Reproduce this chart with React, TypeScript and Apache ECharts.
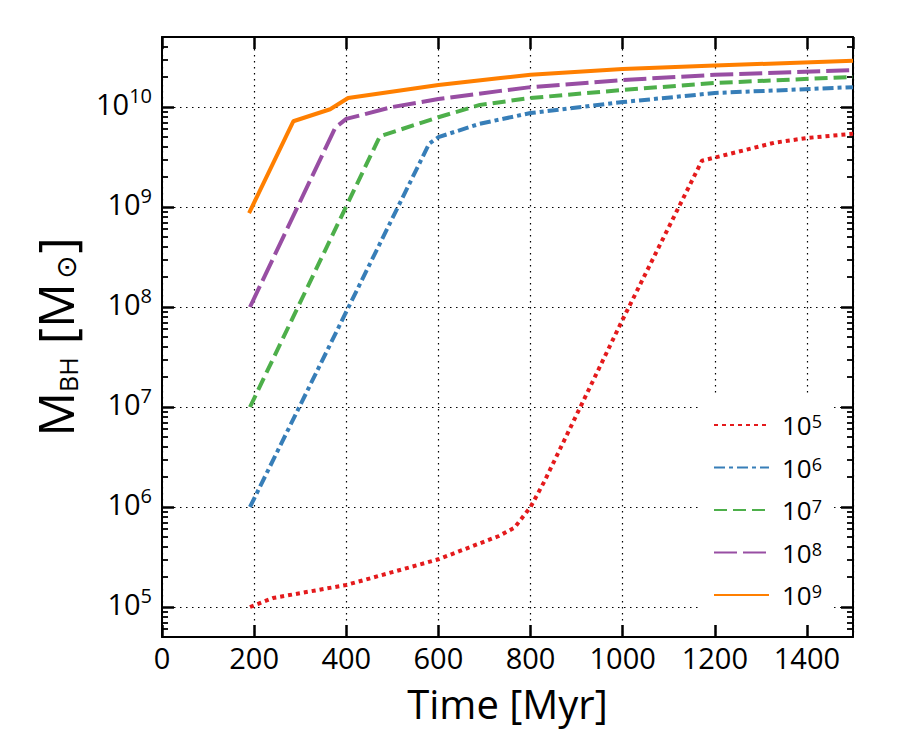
import React, { useEffect, useRef } from "react";
import * as echarts from "echarts";

// ---- data ----
const SERIES_NAMES = ["1e5", "1e6", "1e7", "1e8", "1e9"];
const SERIES_COLORS = ["#e41a1c", "#377eb8", "#4daf4a", "#984ea3", "#ff7f00"];

const TIME_5 = [191, 241, 400, 600, 730, 765, 800, 830, 1000, 1172, 1330, 1400, 1500];
const MASS_5 = [1e5, 1.23e5, 1.66e5, 3.0e5, 5.1e5, 6.2e5, 1.0e6, 1.8e6, 7.5e7, 2.9e9, 4.4e9, 4.9e9, 5.4e9];

const TIME_6 = [191, 580, 600, 690, 800, 1000, 1200, 1500];
const MASS_6 = [1e6, 4.3e9, 5.0e9, 6.8e9, 8.7e9, 1.12e10, 1.38e10, 1.58e10];

const TIME_7 = [191, 473, 600, 690, 800, 1000, 1200, 1500];
const MASS_7 = [1e7, 5.1e9, 7.9e9, 1.05e10, 1.23e10, 1.48e10, 1.74e10, 2.0e10];

const TIME_8 = [191, 376, 400, 500, 600, 735, 800, 1000, 1200, 1500];
const MASS_8 = [1e8, 6.2e9, 7.6e9, 1.0e10, 1.2e10, 1.45e10, 1.58e10, 1.86e10, 2.1e10, 2.34e10];

const TIME_9 = [189, 285, 365, 404, 600, 735, 800, 1000, 1200, 1500];
const MASS_9 = [8.7e8, 7.2e9, 9.5e9, 1.23e10, 1.66e10, 1.95e10, 2.1e10, 2.4e10, 2.6e10, 2.9e10];

const Y_MAJOR_TICKS = [1e5, 1e6, 1e7, 1e8, 1e9, 1e10];
const X_MIN = 0;
const X_MAX = 1500;
const X_INTERVAL = 200;
const Y_MIN = Math.pow(10, 4.7);
const Y_MAX = Math.pow(10, 10.7);

const TIMES = [TIME_5, TIME_6, TIME_7, TIME_8, TIME_9];
const MASSES = [MASS_5, MASS_6, MASS_7, MASS_8, MASS_9];
const DASHES: any[] = [[4, 4], [11, 4, 4, 4], [13, 6], [23, 6], "solid"];

const FONT = "'Open Sans', 'DejaVu Sans', sans-serif";

function minorTicks(): number[] {
  const out: number[] = [];
  for (let n = 4; n <= 10; n++) {
    for (let k = 2; k <= 9; k++) {
      const v = k * Math.pow(10, n);
      if (v > Y_MIN && v < Y_MAX) out.push(v);
    }
  }
  return out;
}

export default function App() {
  const ref = useRef<HTMLDivElement>(null);

  useEffect(() => {
    if (!ref.current) return;
    const chart = echarts.init(ref.current, undefined, { renderer: "svg" });
    const minors = minorTicks();
    const black = "#000";

    const tickStyle = (len: number, w: number, custom?: number[]) => ({
      show: true,
      inside: true,
      length: len,
      ...(custom ? { customValues: custom } : {}),
      lineStyle: { color: black, width: w },
    });

    const supRich = {
      b: { fontSize: 29, lineHeight: 32, verticalAlign: "bottom", fontFamily: FONT, color: black },
      s: { fontSize: 20, lineHeight: 22, verticalAlign: "top", fontFamily: FONT, color: black },
    };

    const option: any = {
      animation: false,
      backgroundColor: "#fff",
      grid: { left: 162, right: 47, top: 37, bottom: 113, containLabel: false },
      xAxis: [
        {
          type: "value",
          min: X_MIN,
          max: X_MAX,
          interval: X_INTERVAL,
          position: "bottom",
          axisLine: { show: true, onZero: false, lineStyle: { color: black, width: 2 } },
          axisTick: tickStyle(12, 2.5),
          axisLabel: {
            fontSize: 29,
            fontFamily: FONT,
            color: black,
            margin: 6,
            showMaxLabel: false,
            formatter: (v: number) => String(v),
          },
          splitLine: { show: true, lineStyle: { color: black, width: 1.2, type: [1.5, 4.5] } },
          name: "Time [Myr]",
          nameLocation: "middle",
          nameGap: 46,
          nameTextStyle: { fontSize: 40, fontFamily: FONT, color: black },
        },
        {
          type: "value",
          min: X_MIN,
          max: X_MAX,
          interval: X_INTERVAL,
          position: "top",
          axisLine: { show: true, onZero: false, lineStyle: { color: black, width: 2 } },
          axisTick: tickStyle(12, 2.5),
          axisLabel: { show: false },
          splitLine: { show: false },
        },
      ],
      yAxis: [
        {
          type: "log",
          min: Y_MIN,
          max: Y_MAX,
          position: "left",
          axisLine: { show: true, onZero: false, lineStyle: { color: black, width: 2 } },
          axisTick: tickStyle(12, 2.5, Y_MAJOR_TICKS),
          axisLabel: {
            show: true,
            customValues: Y_MAJOR_TICKS,
            margin: 10,
            padding: [0, 0, 11, 0],
            formatter: (v: number) => `{b|10}{s|${Math.round(Math.log10(v))}}`,
            rich: supRich,
          },
          splitLine: { show: true, lineStyle: { color: black, width: 1.2, type: [1.5, 4.5] } },
          name: "{m|M}{sub|BH}{m| [M}{sun|⊙}{m|]}",
          nameLocation: "middle",
          nameRotate: 90,
          nameGap: 82,
          nameTextStyle: {
            rich: {
              m: { fontSize: 50, lineHeight: 56, verticalAlign: "bottom", fontFamily: FONT, color: black },
              sub: { fontSize: 25, lineHeight: 38, verticalAlign: "bottom", fontFamily: FONT, color: black },
              sun: { fontSize: 28, lineHeight: 30, verticalAlign: "bottom", fontFamily: "'DejaVu Sans'", color: black, padding: [0, 2, 0, 4] },
            },
          },
        },
        {
          type: "log",
          min: Y_MIN,
          max: Y_MAX,
          position: "right",
          axisLine: { show: true, onZero: false, lineStyle: { color: black, width: 2 } },
          axisTick: tickStyle(12, 2.5, Y_MAJOR_TICKS),
          axisLabel: { show: false },
          splitLine: { show: false },
        },
        {
          type: "log",
          min: Y_MIN,
          max: Y_MAX,
          position: "left",
          axisLine: { show: false, onZero: false },
          axisTick: tickStyle(6, 1.8, minors),
          axisLabel: { show: false },
          splitLine: { show: false },
        },
        {
          type: "log",
          min: Y_MIN,
          max: Y_MAX,
          position: "right",
          axisLine: { show: false, onZero: false },
          axisTick: tickStyle(6, 1.8, minors),
          axisLabel: { show: false },
          splitLine: { show: false },
        },
      ],
      legend: {
        orient: "vertical",
        left: 698,
        top: 395,
        backgroundColor: "#fff",
        padding: [17, 12, 17, 15],
        itemWidth: 55,
        itemHeight: 14,
        itemGap: 16.5,
        itemStyle: { opacity: 0, borderWidth: 0 },
        data: SERIES_NAMES,
        formatter: (name: string) => `{b|10}{s|${name.slice(2)}}`,
        textStyle: {
          rich: {
            b: { fontSize: 26, lineHeight: 26, verticalAlign: "bottom", fontFamily: FONT, color: black, padding: [0, 0, 0, 8] },
            s: { fontSize: 18, lineHeight: 18, verticalAlign: "top", fontFamily: FONT, color: black },
          },
        },
      },
      series: SERIES_NAMES.map((name, i) => ({
        type: "line",
        name,
        xAxisIndex: 0,
        yAxisIndex: 0,
        symbol: "none",
        showSymbol: false,
        smooth: false,
        z: 2 + i,
        data: TIMES[i].map((t, j) => [t, MASSES[i][j]]),
        itemStyle: { color: SERIES_COLORS[i] },
        lineStyle: { color: SERIES_COLORS[i], width: 4, type: DASHES[i], cap: "butt" },
      })),
    };

    chart.setOption(option);
    return () => chart.dispose();
  }, []);

  return (
    <div
      ref={ref}
      style={{ position: "fixed", left: 0, top: 0, width: 900, height: 750, background: "#fff" }}
    />
  );
}
